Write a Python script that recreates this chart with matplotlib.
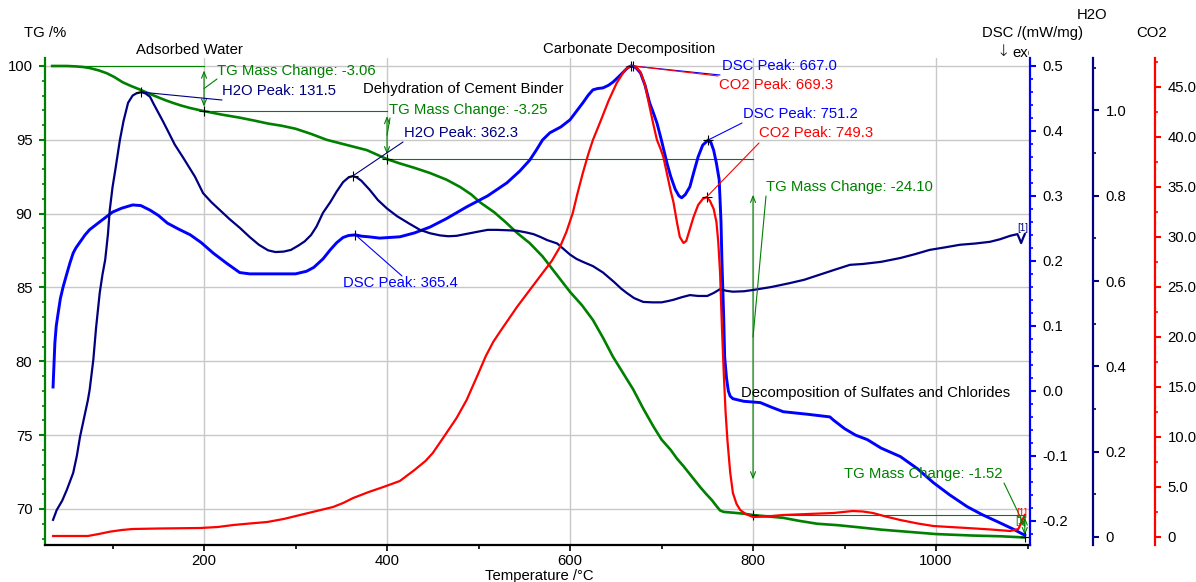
import matplotlib
matplotlib.use('Agg')
import matplotlib.pyplot as plt
from matplotlib.patches import ConnectionPatch
from matplotlib.ticker import FixedLocator, FixedFormatter, MultipleLocator
from matplotlib.transforms import Bbox

plt.rcParams['font.family'] = ['Liberation Sans', 'DejaVu Sans']
FS = 10.7

# ---------------- data ----------------
tg_temp = [34, 50, 60, 68, 75, 85, 94, 102, 111, 120, 130, 140, 149, 157, 166, 175, 185,
           200, 220, 239, 255, 270, 285, 300, 317, 334, 356, 378, 400, 414, 430, 447, 465,
           480, 492, 502, 517, 530, 542, 556, 570, 585, 600, 613, 625, 636, 647, 658, 669,
           680, 691, 700, 710, 717, 724, 733, 742, 749, 755, 760, 764, 768, 778, 790, 800,
           815, 833, 850, 870, 893, 917, 940, 960, 980, 1000, 1020, 1040, 1071, 1097]
tg_mass = [100.0, 100.0, 99.97, 99.93, 99.86, 99.7, 99.5, 99.25, 98.9, 98.65, 98.4, 98.13,
           97.9, 97.7, 97.5, 97.32, 97.15, 96.94, 96.7, 96.5, 96.3, 96.1, 95.95, 95.75, 95.4,
           95.0, 94.65, 94.3, 93.69, 93.4, 93.1, 92.75, 92.3, 91.8, 91.3, 90.75, 90.1, 89.4,
           88.7, 88.0, 87.1, 85.9, 84.7, 83.8, 82.8, 81.6, 80.3, 79.2, 78.1, 76.8, 75.6,
           74.7, 74.0, 73.4, 72.9, 72.2, 71.5, 71.0, 70.6, 70.2, 69.9, 69.8, 69.75, 69.68,
           69.59, 69.5, 69.4, 69.2, 69.0, 68.9, 68.75, 68.6, 68.5, 68.4, 68.3, 68.25, 68.2,
           68.15, 68.07]

dsc_temp = [35, 36, 37, 38.5, 40.6, 43, 46, 50, 53.5, 57, 60, 64.5, 70, 75, 86, 100, 110,
            122, 131, 141, 150, 160, 172, 185, 197, 210, 225, 239, 250, 260, 280, 300, 312,
            320, 330, 338, 345, 352, 358, 365.4, 372, 380, 392, 403, 414, 430, 447, 465,
            487, 510, 531, 545, 556, 563, 570, 578, 590, 600, 607, 614, 620, 625, 630, 636,
            642, 647, 653, 658, 663, 667, 672, 677, 682, 687, 691, 695, 700, 706, 710, 715,
            719, 722, 726, 731, 735, 740, 745, 751.2, 754, 757, 760, 763, 765, 766, 768,
            769, 771, 773, 775, 778, 790, 808, 820, 833, 860, 884, 888, 900, 912, 925, 940,
            961, 980, 997, 1015, 1034, 1050, 1070, 1085, 1097]
dsc_val = [0.006, 0.04, 0.074, 0.1, 0.12, 0.142, 0.16, 0.18, 0.197, 0.212, 0.22, 0.229,
           0.24, 0.248, 0.26, 0.275, 0.281, 0.286, 0.285, 0.278, 0.27, 0.258, 0.249, 0.24,
           0.228, 0.212, 0.196, 0.182, 0.18, 0.18, 0.18, 0.18, 0.184, 0.19, 0.203, 0.217,
           0.228, 0.236, 0.239, 0.240, 0.238, 0.237, 0.235, 0.236, 0.237, 0.243, 0.252,
           0.265, 0.283, 0.3, 0.32, 0.338, 0.355, 0.37, 0.386, 0.397, 0.406, 0.417, 0.43,
           0.443, 0.455, 0.463, 0.465, 0.466, 0.47, 0.475, 0.483, 0.49, 0.497, 0.500, 0.497,
           0.489, 0.47, 0.443, 0.428, 0.412, 0.385, 0.35, 0.33, 0.31, 0.3, 0.297, 0.302,
           0.314, 0.335, 0.36, 0.378, 0.386, 0.382, 0.37, 0.35, 0.325, 0.26, 0.2, 0.11,
           0.052, 0.02, 0.0, -0.008, -0.012, -0.016, -0.018, -0.025, -0.032, -0.036, -0.04,
           -0.045, -0.058, -0.068, -0.075, -0.088, -0.101, -0.12, -0.141, -0.16, -0.178,
           -0.19, -0.203, -0.213, -0.222]

h2o_temp = [35, 39, 45, 50, 57, 61, 64.5, 70, 73, 75, 79, 82, 86, 89, 92, 95, 97, 100, 103,
            108, 112, 117, 122, 126, 131.5, 136, 141, 145, 150, 155, 160, 168, 177, 190,
            199, 208, 217, 228, 239, 250, 260, 270, 278, 287, 295, 303, 310, 317, 323, 330,
            338, 345, 352, 358, 362.3, 367, 372, 381, 390, 400, 411, 424, 436, 447, 458,
            467, 476, 488, 500, 510, 520, 532, 542, 552, 560, 568, 575, 586, 593, 600, 607,
            614, 625, 636, 648, 656, 662, 670, 680, 690, 700, 707, 713, 722, 731, 740, 750,
            757, 764, 771, 778, 790, 800, 820, 840, 856, 873, 890, 906, 920, 940, 961, 977,
            993, 1010, 1026, 1043, 1059, 1070, 1081, 1089, 1091, 1093, 1095, 1097]
h2o_val = [0.04, 0.063, 0.085, 0.11, 0.15, 0.19, 0.235, 0.29, 0.32, 0.345, 0.415, 0.49,
           0.572, 0.615, 0.65, 0.71, 0.767, 0.82, 0.86, 0.93, 0.975, 1.018, 1.035, 1.04,
           1.043, 1.04, 1.032, 1.015, 0.995, 0.975, 0.954, 0.92, 0.89, 0.845, 0.806, 0.785,
           0.767, 0.745, 0.725, 0.703, 0.685, 0.672, 0.668, 0.669, 0.673, 0.683, 0.693,
           0.708, 0.728, 0.76, 0.785, 0.81, 0.832, 0.843, 0.846, 0.843, 0.835, 0.814, 0.79,
           0.77, 0.752, 0.735, 0.72, 0.712, 0.707, 0.705, 0.706, 0.711, 0.716, 0.72, 0.72,
           0.719, 0.718, 0.714, 0.71, 0.703, 0.696, 0.688, 0.675, 0.662, 0.652, 0.645,
           0.635, 0.62, 0.598, 0.582, 0.572, 0.56, 0.551, 0.55, 0.55, 0.553, 0.556, 0.562,
           0.567, 0.565, 0.565, 0.572, 0.581, 0.577, 0.575, 0.576, 0.579, 0.586, 0.595,
           0.603, 0.615, 0.627, 0.638, 0.64, 0.645, 0.654, 0.663, 0.673, 0.679, 0.685,
           0.688, 0.692, 0.698, 0.706, 0.71, 0.7, 0.689, 0.7, 0.71]

co2_temp = [35, 73, 85, 97, 110, 122, 150, 196, 215, 232, 250, 269, 287, 305, 323, 341, 352,
            363, 380, 396, 405, 414, 430, 442, 450, 462, 476, 487, 500, 508, 516, 524, 530,
            542, 556, 570, 580, 589, 596, 603, 608, 614, 620, 625, 633, 642, 651, 660, 666,
            669.3, 673, 677, 682, 687, 691, 695, 699, 702, 706, 710, 713, 717, 720, 724, 727,
            731, 735, 740, 745, 749.3, 753, 757, 760, 762, 764, 766, 768, 770, 772, 775, 778,
            782, 786, 792, 800, 815, 833, 860, 888, 909, 920, 931, 945, 961, 980, 997, 1015,
            1034, 1060, 1081, 1090, 1094, 1097]
co2_val = [0.1, 0.1, 0.3, 0.53, 0.7, 0.8, 0.85, 0.9, 1.0, 1.2, 1.35, 1.5, 1.8, 2.2, 2.6,
           3.0, 3.4, 3.9, 4.5, 5.0, 5.3, 5.6, 6.7, 7.6, 8.4, 10.0, 11.9, 13.7, 16.4, 18.1,
           19.5, 20.6, 21.4, 23.0, 24.7, 26.4, 27.6, 29.0, 30.5, 32.4, 34.3, 36.4, 38.3,
           39.7, 41.5, 43.6, 45.4, 46.7, 47.1, 47.1, 46.9, 46.5, 45.2, 43.0, 41.3, 39.7,
           38.8, 38.0, 36.3, 34.6, 33.5, 31.4, 30.0, 29.4, 29.6, 30.8, 32.0, 33.2, 33.8,
           34.0, 33.6, 32.8, 31.5, 29.5, 26.4, 21.0, 16.4, 12.5, 9.7, 6.5, 4.4, 3.3, 2.7,
           2.3, 2.0, 2.05, 2.2, 2.3, 2.4, 2.6, 2.55, 2.4, 2.05, 1.7, 1.35, 1.1, 1.0, 0.9,
           0.75, 0.6, 0.8, 1.6, 2.2]

# mass-change steps
step_t0 = [34, 200, 400, 800]
step_t1 = [200, 400, 800, 1097]
step_m0 = [100.00, 96.94, 93.69, 69.59]
step_m1 = [96.94, 93.69, 69.59, 68.07]

# peaks
h2o_peak_t = [131.5, 362.3]
h2o_peak_v = [1.043, 0.846]
dsc_peak_t = [365.4, 667.0, 751.2]
dsc_peak_v = [0.240, 0.500, 0.386]
co2_peak_t = [669.3, 749.3]
co2_peak_v = [47.1, 34.0]

region_labels = ["Adsorbed Water", "Dehydration of Cement Binder",
                 "Carbonate Decomposition", "Decomposition of Sulfates and Chlorides"]

x_major = [200, 400, 600, 800, 1000]
tg_ticks = [70, 75, 80, 85, 90, 95, 100]
dsc_ticks = [-0.2, -0.1, 0.0, 0.1, 0.2, 0.3, 0.4, 0.5]
dsc_ticklabels = ["-0.2", "-0.1", "0.0", "0.1", "0.2", "0.3", "0.4", "0.5"]
h2o_ticks = [0, 0.2, 0.4, 0.6, 0.8, 1.0]
h2o_ticklabels = ["0", "0.2", "0.4", "0.6", "0.8", "1.0"]
co2_ticks = [0, 5, 10, 15, 20, 25, 30, 35, 40, 45]
co2_ticklabels = ["0", "5.0", "10.0", "15.0", "20.0", "25.0", "30.0", "35.0", "40.0", "45.0"]

# ---------------- styling ----------------
GREEN = '#008000'
BLUE = '#0000FF'
NAVY = '#000080'
RED = '#FF0000'
GRID = '#c8c8c8'

W, H = 1196, 582
fig = plt.figure(figsize=(W / 100, H / 100), dpi=100)


def fx(x):
    return x / W


def fy(y):
    return 1 - y / H


L, R, T, B = 45, 1030, 58, 545
ax = fig.add_axes([fx(L), fy(B), (R - L) / W, (B - T) / H])
ax.set_xlim(26.2, 1102.7)
ax.set_ylim(67.56, 100.54)

ax_dsc = ax.twinx()
ax_h2o = ax.twinx()
ax_co2 = ax.twinx()
ax_dsc.set_ylim(-0.237, 0.512)
ax_h2o.set_ylim(-0.019, 1.123)
ax_co2.set_ylim(-0.8, 47.9)

# grid
for v in tg_ticks:
    ax.axhline(v, color=GRID, lw=1, zorder=0)
for v in x_major:
    ax.axvline(v, color=GRID, lw=1, zorder=0)

# spines
for s in ['top', 'right']:
    ax.spines[s].set_visible(False)
ax.spines['left'].set_color(GREEN)
ax.spines['left'].set_linewidth(1.6)
ax.spines['bottom'].set_color('black')
ax.spines['bottom'].set_linewidth(1.6)

for a, col, pos in [(ax_dsc, BLUE, 1.0), (ax_h2o, NAVY, (1093 - L) / (R - L)),
                    (ax_co2, RED, (1155 - L) / (R - L))]:
    for s in ['top', 'left', 'bottom']:
        a.spines[s].set_visible(False)
    a.spines['right'].set_position(('axes', pos))
    a.spines['right'].set_color(col)
    a.spines['right'].set_linewidth(1.6)
    a.tick_params(axis='y', which='both', colors=col, labelcolor='black',
                  direction='out', labelsize=FS)
    a.tick_params(axis='y', which='major', length=4, width=1.5, pad=5)
    a.tick_params(axis='y', which='minor', length=2.5, width=1.2)

ax.xaxis.set_major_locator(FixedLocator(x_major))
ax.xaxis.set_minor_locator(MultipleLocator(100))
ax.yaxis.set_major_locator(FixedLocator(tg_ticks))
ax.yaxis.set_minor_locator(MultipleLocator(1))
ax.tick_params(axis='x', which='both', colors='black', direction='out', labelsize=FS)
ax.tick_params(axis='x', which='major', length=4, width=1.2, pad=2.5)
ax.tick_params(axis='x', which='minor', length=3, width=1.2)
ax.tick_params(axis='y', which='both', colors=GREEN, labelcolor='black',
               direction='out', labelsize=FS)
ax.tick_params(axis='y', which='major', length=4, width=1.5, pad=5)
ax.tick_params(axis='y', which='minor', length=2.5, width=1.2)

ax_dsc.yaxis.set_major_locator(FixedLocator(dsc_ticks))
ax_dsc.yaxis.set_major_formatter(FixedFormatter(dsc_ticklabels))
ax_dsc.yaxis.set_minor_locator(MultipleLocator(0.02))
ax_h2o.yaxis.set_major_locator(FixedLocator(h2o_ticks))
ax_h2o.yaxis.set_major_formatter(FixedFormatter(h2o_ticklabels))
ax_h2o.yaxis.set_minor_locator(MultipleLocator(0.1))
ax_co2.yaxis.set_major_locator(FixedLocator(co2_ticks))
ax_co2.yaxis.set_major_formatter(FixedFormatter(co2_ticklabels))
ax_co2.yaxis.set_minor_locator(MultipleLocator(2.5))

# curves
ax.plot(tg_temp, tg_mass, color=GREEN, lw=1.9, zorder=3, solid_joinstyle='round')
ax_dsc.plot(dsc_temp, dsc_val, color=BLUE, lw=2.1, zorder=3, solid_joinstyle='round')
ax_h2o.plot(h2o_temp, h2o_val, color=NAVY, lw=1.6, zorder=3, solid_joinstyle='round')
ax_co2.plot(co2_temp, co2_val, color=RED, lw=1.6, zorder=3, solid_joinstyle='round')


def txt(x, y, s, color='black', ha='left', size=FS, **kw):
    return fig.text(fx(x), fy(y), s, color=color, ha=ha, va='center', fontsize=size, **kw)


def leader(a, xy, px, color):
    con = ConnectionPatch(xyA=xy, coordsA=a.transData,
                          xyB=(fx(px[0]), fy(px[1])), coordsB='figure fraction',
                          color=color, lw=0.8)
    fig.add_artist(con)


# mass change annotations
step_text_pos = [(217, 71), (389, 110), (766, 187), (844, 474)]
step_leader_end = [(217, 79), (390, 118), (766, 196), (1004, 483)]
for i in range(4):
    t0, t1, m0, m1 = step_t0[i], step_t1[i], step_m0[i], step_m1[i]
    ax.plot([t0, t1], [m0, m0], color=GREEN, lw=0.8, zorder=2)
    d = m0 - m1
    ax.annotate('', xy=(t1, m1 + 0.1 * d), xytext=(t1, m0 - 0.1 * d),
                arrowprops=dict(arrowstyle='<->,head_length=0.45,head_width=0.18',
                                color=GREEN, lw=0.8, shrinkA=0, shrinkB=0), zorder=4)
    ax.plot([t1], [m1], marker='+', color='black', ms=7, mew=0.8, zorder=5)
    leader(ax, (t1, (m0 + m1) / 2), step_leader_end[i], GREEN)
    txt(*step_text_pos[i], f"TG Mass Change: {m1 - m0:.2f}", GREEN)

# peak annotations
h2o_text = [(222, 91), (404, 133)]
h2o_lead = [(222, 100), (403, 142)]
for i in range(2):
    ax_h2o.plot([h2o_peak_t[i]], [h2o_peak_v[i]], marker='+', color='black', ms=7, mew=0.8, zorder=5)
    leader(ax_h2o, (h2o_peak_t[i], h2o_peak_v[i]), h2o_lead[i], NAVY)
    txt(*h2o_text[i], f"H2O Peak: {h2o_peak_t[i]:.1f}", NAVY)

dsc_text = [(343, 283), (722, 66), (743, 114)]
dsc_lead = [(402, 276), (720, 75), (742, 123)]
for i in range(3):
    ax_dsc.plot([dsc_peak_t[i]], [dsc_peak_v[i]], marker='+', color='black', ms=7, mew=0.8, zorder=5)
    leader(ax_dsc, (dsc_peak_t[i], dsc_peak_v[i]), dsc_lead[i], BLUE)
    txt(*dsc_text[i], f"DSC Peak: {dsc_peak_t[i]:.1f}", BLUE)

co2_text = [(719, 85), (759, 133)]
co2_lead = [(718, 76), (759, 143)]
for i in range(2):
    ax_co2.plot([co2_peak_t[i]], [co2_peak_v[i]], marker='+', color='black', ms=7, mew=0.8, zorder=5)
    leader(ax_co2, (co2_peak_t[i], co2_peak_v[i]), co2_lead[i], RED)
    txt(*co2_text[i], f"CO2 Peak: {co2_peak_t[i]:.1f}", RED)

# region labels
txt(189, 50, region_labels[0], ha='center')
txt(363, 89, region_labels[1])
txt(543, 49, region_labels[2])
txt(741, 393, region_labels[3])

# [1] markers
txt(1023, 228, "[1]", NAVY, ha='center', size=7)
txt(1022, 513, "[1]", RED, ha='center', size=7)
txt(1021, 521, "[1]", GREEN, ha='center', size=7)

# axis titles
txt(24, 33, "TG /%")
txt(1032, 33, "DSC /(mW/mg)", ha='center')
t_arrow = txt(996, 52, "\u2193", size=11.5, family=['DejaVu Sans'], fontweight='light')
t_exo = txt(1012, 53, "exo")
t_exo.set_clip_box(Bbox.from_extents(0, 0, R - 1, H))
t_exo.set_clip_on(True)
txt(1092, 15, "H2O", ha='center')
txt(1152, 33, "CO2", ha='center')
txt(539, 576, "Temperature /\u00b0C", ha='center')

fig.savefig('out.png', dpi=100)
